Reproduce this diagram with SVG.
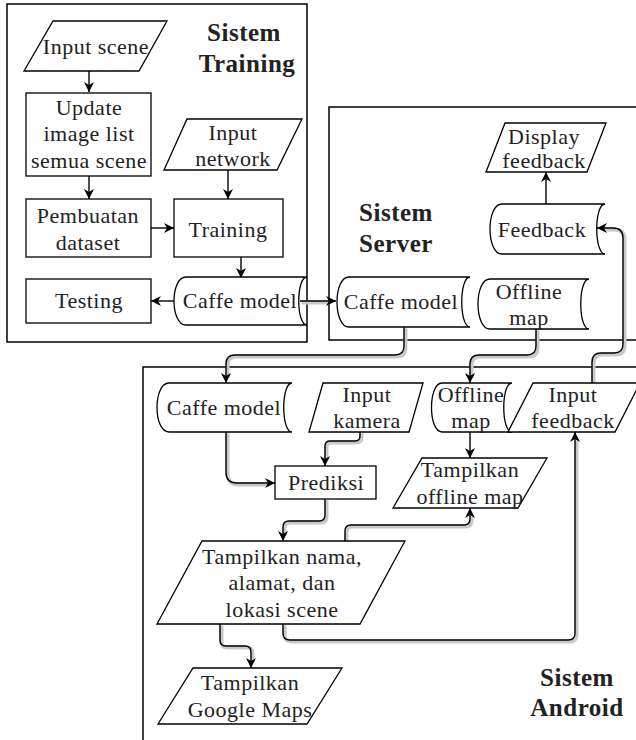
<svg xmlns="http://www.w3.org/2000/svg" width="636" height="740" viewBox="0 0 636 740">
<defs>
<marker id="arr" viewBox="0 0 10 10" refX="10" refY="5" markerWidth="10" markerHeight="10" markerUnits="userSpaceOnUse" orient="auto">
<path d="M0,0 L10,5 L0,10 L3,5 Z" fill="#000"/>
</marker>
</defs>
<style>
.frame{fill:none;stroke:#000;stroke-width:1.5}
.shp{fill:#fff;stroke:#000;stroke-width:1.3}
.t{font-family:"Liberation Serif","Times New Roman",serif;font-size:22px;letter-spacing:0.5px;fill:#222;text-anchor:middle}
.tb{font-family:"Liberation Serif","Times New Roman",serif;font-size:25px;letter-spacing:0.5px;font-weight:bold;fill:#222;text-anchor:middle}
.halo{fill:none;stroke:#c8c8c8;stroke-width:4}
.ln{fill:none;stroke:#000;stroke-width:1.4;marker-end:url(#arr)}
</style>
<rect width="636" height="740" fill="#fff"/>
<g id="frames">
<rect id="frame-training" class="frame" x="7" y="4" width="300" height="338"/>
<rect id="frame-server" class="frame" x="329" y="107" width="320" height="233"/>
<rect id="frame-android" class="frame" x="143" y="367" width="510" height="390"/>
<text class="tb" x="244" y="41">Sistem</text>
<text class="tb" x="247" y="72">Training</text>
<text class="tb" x="396" y="221">Sistem</text>
<text class="tb" x="396" y="252">Server</text>
<text class="tb" x="577" y="686">Sistem</text>
<text class="tb" x="577" y="716">Android</text>
</g>
<g id="connectors">
<g class="halo" transform="translate(1.5,1.5)">
<path d="M404,327 V346 Q404,355 395,355 H235 Q226,355 226,364 V376"/>
<path d="M536,329 V346 Q536,355 527,355 H479 Q470,355 470,364 V376"/>
<path d="M592,383 V362 Q592,353 601,353 H614 Q623,353 623,344 V238 Q623,228 613,228 H604"/>
<path d="M226,432 V472 Q226,483 237,483 H268"/>
<path d="M360,432 V436 Q360,441 355,441 H330 Q325,441 325,446 V459"/>
<path d="M325,499 V515 Q325,521 319,521 H289 Q283,521 283,527 V534"/>
<path d="M345,541 V531 Q345,525 351,525 H464 Q470,525 470,519 V515"/>
<path d="M283,624 V633 Q283,640 290,640 H568 Q575,640 575,633 V439"/>
<path d="M220,624 V640 Q220,646 226,646 H245 Q251,646 251,652 V661"/>
<path d="M300,301 H328"/>
</g>
<path class="ln" d="M89,71 V92"/>
<path class="ln" d="M89,176 V199"/>
<path class="ln" d="M228,170 V199"/>
<path class="ln" d="M151,228 H174"/>
<path class="ln" d="M241,257 V278"/>
<path class="ln" d="M174,301 H151"/>
<path class="ln" d="M300,301 H336"/>
<path class="ln" d="M546,205 V172"/>
<path class="ln" d="M404,327 V346 Q404,355 395,355 H235 Q226,355 226,364 V383"/>
<path class="ln" d="M536,329 V346 Q536,355 527,355 H479 Q470,355 470,364 V383"/>
<path class="ln" d="M592,383 V362 Q592,353 601,353 H614 Q623,353 623,344 V238 Q623,228 613,228 H597"/>
<path class="ln" d="M226,432 V472 Q226,483 237,483 H275"/>
<path class="ln" d="M360,432 V436 Q360,441 355,441 H330 Q325,441 325,446 V466"/>
<path class="ln" d="M470,432 V458"/>
<path class="ln" d="M325,499 V515 Q325,521 319,521 H289 Q283,521 283,527 V541"/>
<path class="ln" d="M345,541 V531 Q345,525 351,525 H464 Q470,525 470,519 V508"/>
<path class="ln" d="M283,624 V633 Q283,640 290,640 H568 Q575,640 575,633 V432"/>
<path class="ln" d="M220,624 V640 Q220,646 226,646 H245 Q251,646 251,652 V668"/>
</g>
<g id="input-scene">
<polygon class="shp" points="53,21 167,21 139,71 24,71"/>
<text class="t" x="96" y="54">Input scene</text>
</g>
<g id="update-image-list">
<rect class="shp" x="26" y="93" width="125" height="83"/>
<text class="t" x="89" y="115">Update</text>
<text class="t" x="89" y="141">image list</text>
<text class="t" x="89" y="168">semua scene</text>
</g>
<g id="input-network">
<polygon class="shp" points="187,119 302,119 277,170 164,170"/>
<text class="t" x="233" y="140">Input</text>
<text class="t" x="233" y="166">network</text>
</g>
<g id="pembuatan-dataset">
<rect class="shp" x="26" y="199" width="125" height="58"/>
<text class="t" x="88" y="223">Pembuatan</text>
<text class="t" x="88" y="250">dataset</text>
</g>
<g id="training">
<rect class="shp" x="174" y="199" width="109" height="58"/>
<text class="t" x="228" y="237">Training</text>
</g>
<g id="testing">
<rect class="shp" x="26" y="279" width="125" height="44"/>
<text class="t" x="89" y="308">Testing</text>
</g>
<g id="caffe-model-training">
<path class="shp" d="M186,277 H307 C296,277 296,325 307,325 H186 C170,325 170,277 186,277 Z"/>
<text class="t" x="240" y="308">Caffe model</text>
</g>
<g id="display-feedback">
<polygon class="shp" points="505,123 606,123 587,172 486,172"/>
<text class="t" x="544" y="144">Display</text>
<text class="t" x="544" y="168">feedback</text>
</g>
<g id="feedback-server">
<path class="shp" d="M502,204 H605 C594,204 594,254 605,254 H502 C486,254 486,204 502,204 Z"/>
<text class="t" x="542" y="237">Feedback</text>
</g>
<g id="caffe-model-server">
<path class="shp" d="M349,277 H470 C459,277 459,327 470,327 H349 C333,327 333,277 349,277 Z"/>
<text class="t" x="401" y="309">Caffe model</text>
</g>
<g id="offline-map-server">
<path class="shp" d="M490,279 H589 C578,279 578,329 589,329 H490 C474,329 474,279 490,279 Z"/>
<text class="t" x="529" y="299">Offline</text>
<text class="t" x="529" y="325">map</text>
</g>
<g id="caffe-model-android">
<path class="shp" d="M169,383 H292 C281,383 281,432 292,432 H169 C153,432 153,383 169,383 Z"/>
<text class="t" x="224" y="415">Caffe model</text>
</g>
<g id="input-kamera">
<polygon class="shp" points="323,383 423,383 409,432 309,432"/>
<text class="t" x="367" y="402">Input</text>
<text class="t" x="367" y="428">kamera</text>
</g>
<g id="offline-map-android">
<path class="shp" d="M442,383 H512 C501,383 501,432 512,432 H442 C428,432 428,383 442,383 Z"/>
<text class="t" x="471" y="402">Offline</text>
<text class="t" x="471" y="428">map</text>
</g>
<g id="input-feedback">
<polygon class="shp" points="533,383 640,383 615,432 508,432"/>
<text class="t" x="573" y="402">Input</text>
<text class="t" x="573" y="428">feedback</text>
</g>
<g id="prediksi">
<rect class="shp" x="275" y="466" width="101" height="33"/>
<text class="t" x="326" y="490">Prediksi</text>
</g>
<g id="tampilkan-offline-map">
<polygon class="shp" points="422,458 547,458 518,508 393,508"/>
<text class="t" x="470" y="477">Tampilkan</text>
<text class="t" x="470" y="504">offline map</text>
</g>
<g id="tampilkan-nama">
<polygon class="shp" points="202,541 405,541 360,624 157,624"/>
<text class="t" x="282" y="564">Tampilkan nama,</text>
<text class="t" x="282" y="590">alamat, dan</text>
<text class="t" x="282" y="617">lokasi scene</text>
</g>
<g id="tampilkan-google-maps">
<polygon class="shp" points="193,668 342,668 307,724 158,724"/>
<text class="t" x="250" y="690">Tampilkan</text>
<text class="t" x="250" y="717">Google Maps</text>
</g>
</svg>
